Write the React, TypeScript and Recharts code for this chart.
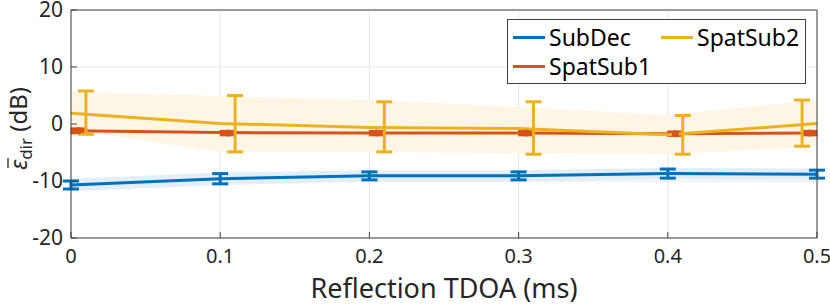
import React from "react";
import {
  ComposedChart,
  Line,
  Area,
  Scatter,
  ErrorBar,
  XAxis,
  YAxis,
  CartesianGrid,
  Legend,
} from "recharts";

const BLUE = "#0072BD";
const ORANGE = "#D95319";
const YELLOW = "#EDB120";
const AXIS = "#404040";
const TEXT = "#262626";
const FONT = "'Noto Sans', sans-serif";

const tdoa = [0, 0.1, 0.2, 0.3, 0.4, 0.5];
const xTicks = [0, 0.1, 0.2, 0.3, 0.4, 0.5];
const yTicks = [-20, -10, 0, 10, 20];

// SubDec
const subDecMean = [-10.7, -9.6, -9.1, -9.1, -8.7, -8.8];
const subDecErr = [0.7, 0.9, 0.7, 0.7, 0.8, 0.7];
const subDecSpread = [1.1, 1.1, 1.0, 1.0, 1.0, 1.0];

// SpatSub1
const spat1Mean = [-1.2, -1.5, -1.6, -1.6, -1.7, -1.6];
const spat1BarX = [0.005, 0.105, 0.205, 0.305, 0.405, 0.495];
const spat1BarMean = [-1.2, -1.6, -1.6, -1.6, -1.7, -1.6];
const spat1Err = [0.35, 0.3, 0.3, 0.3, 0.3, 0.3];

// SpatSub2
const spat2Mean = [1.9, 0.1, -0.6, -0.8, -1.9, 0.1];
const spat2Low = [-0.9, -4.9, -4.9, -5.1, -5.3, -4.0];
const spat2High = [5.7, 4.9, 4.2, 3.0, 1.6, 4.2];
const spat2BarX = [0.01, 0.11, 0.21, 0.31, 0.41, 0.49];
const spat2BarMean = [2.0, 0.05, -0.5, -0.7, -1.9, 0.15];
const spat2Err = [3.8, 4.95, 4.4, 4.6, 3.4, 4.05];

const subDecData = tdoa.map((x, i) => ({ x, y: subDecMean[i], err: subDecErr[i] }));
const subDecBand = tdoa.map((x, i) => ({
  x,
  range: [subDecMean[i] - subDecSpread[i], subDecMean[i] + subDecSpread[i]],
}));
const spat1Line = tdoa.map((x, i) => ({ x, y: spat1Mean[i] }));
const spat1Bars = spat1BarX.map((x, i) => ({ x, y: spat1BarMean[i], err: spat1Err[i] }));
const spat2Line = tdoa.map((x, i) => ({ x, y: spat2Mean[i] }));
const spat2Band = tdoa.map((x, i) => ({ x, range: [spat2Low[i], spat2High[i]] }));
const spat2Bars = spat2BarX.map((x, i) => ({ x, y: spat2BarMean[i], err: spat2Err[i] }));

const legendItems = [
  { name: "SubDec", color: BLUE, col: 0, row: 0 },
  { name: "SpatSub2", color: YELLOW, col: 1, row: 0 },
  { name: "SpatSub1", color: ORANGE, col: 0, row: 1 },
];

const TICK_LEN = 6;

const BottomTick = (props: any) => {
  const { x, y, payload } = props;
  const axisY = y - 12;
  return (
    <g>
      <line x1={x} x2={x} y1={axisY} y2={axisY - TICK_LEN} stroke={AXIS} />
      <text x={x} y={y} dy={13} textAnchor="middle" fill={TEXT} fontSize={20} fontFamily={FONT}>
        {payload.value}
      </text>
    </g>
  );
};

const LeftTick = (props: any) => {
  const { x, y, payload } = props;
  const axisX = x + 8;
  return (
    <g>
      <line x1={axisX} x2={axisX + TICK_LEN} y1={y} y2={y} stroke={AXIS} />
      <text x={x} y={y} dy={7} textAnchor="end" fill={TEXT} fontSize={21} fontFamily={FONT}>
        {payload.value}
      </text>
    </g>
  );
};

const TopTick = (props: any) => {
  const { x, y } = props;
  return <line x1={x} x2={x} y1={y} y2={y + TICK_LEN} stroke={AXIS} />;
};

const RightTick = (props: any) => {
  const { x, y } = props;
  return <line x1={x} x2={x - TICK_LEN} y1={y} y2={y} stroke={AXIS} />;
};

// rotated label: epsilon with a bar, "dir" subscript, then (dB)
const YLabel = (props: any) => {
  const { viewBox } = props;
  const cx = viewBox.x + 27;
  const cy = viewBox.y + viewBox.height / 2;
  const start = -46;
  return (
    <g transform={`translate(${cx},${cy}) rotate(-90)`}>
      <line x1={start + 2} x2={start + 12} y1={-19} y2={-19} stroke={TEXT} strokeWidth={1.3} />
      <text x={start} y={0} textAnchor="start" fill={TEXT} fontSize={24} fontFamily={FONT}>
        <tspan fontStyle="italic">{"\u03B5"}</tspan>
        <tspan fontSize={17} dy={5}>dir</tspan>
        <tspan dy={-5}>{" (dB)"}</tspan>
      </text>
    </g>
  );
};

const XLabel = (props: any) => {
  const { viewBox } = props;
  return (
    <text
      x={viewBox.x + viewBox.width / 2}
      y={viewBox.y + 60}
      textAnchor="middle"
      fill={TEXT}
      fontSize={27}
      fontFamily={FONT}
    >
      Reflection TDOA (ms)
    </text>
  );
};

const LegendBox = () => (
  <div
    style={{
      position: "relative",
      width: 299,
      height: 65,
      boxSizing: "border-box",
      border: `1px solid ${AXIS}`,
      background: "#fff",
      fontFamily: FONT,
      fontSize: 23,
      color: "#000",
    }}
  >
    {legendItems.map((it) => (
      <div
        key={it.name}
        style={{
          position: "absolute",
          left: 5 + it.col * 148,
          top: 2 + it.row * 29,
          height: 30,
          display: "flex",
          alignItems: "center",
          whiteSpace: "nowrap",
        }}
      >
        <span style={{ display: "inline-block", width: 32, height: 3, background: it.color, marginRight: 4 }} />
        <span>{it.name}</span>
      </div>
    ))}
  </div>
);

const noShape = () => <g />;

const Dot = (props: any) => {
  const { cx, cy } = props;
  return <circle cx={cx} cy={cy} r={3.5} fill={ORANGE} />;
};

export default function App() {
  return (
    <div style={{ position: "absolute", left: 0, top: 0, background: "#fff" }}>
      <ComposedChart width={830} height={305} margin={{ top: 0, right: 0, bottom: 0, left: 0 }}>
        <CartesianGrid stroke="#e6e6e6" />
        <XAxis
          dataKey="x"
          type="number"
          domain={[0, 0.5]}
          ticks={xTicks}
          allowDataOverflow
          height={67}
          tickSize={0}
          tickMargin={12}
          axisLine={{ stroke: AXIS }}
          tick={<BottomTick />}
          label={<XLabel />}
        />
        <XAxis
          xAxisId="top"
          orientation="top"
          type="number"
          domain={[0, 0.5]}
          ticks={xTicks}
          height={10}
          tickSize={0}
          tickMargin={0}
          axisLine={{ stroke: AXIS }}
          tick={<TopTick />}
        />
        <YAxis
          type="number"
          domain={[-20, 20]}
          ticks={yTicks}
          allowDataOverflow
          width={71}
          tickSize={0}
          tickMargin={8}
          axisLine={{ stroke: AXIS }}
          tick={<LeftTick />}
          label={<YLabel />}
        />
        <YAxis
          yAxisId="right"
          orientation="right"
          type="number"
          domain={[-20, 20]}
          ticks={yTicks}
          width={13}
          tickSize={0}
          tickMargin={0}
          axisLine={{ stroke: AXIS }}
          tick={<RightTick />}
        />

        <Area
          data={spat2Band}
          dataKey="range"
          type="linear"
          stroke="none"
          fill="#FDF6E5"
          fillOpacity={1}
          isAnimationActive={false}
        />
        <Area
          data={subDecBand}
          dataKey="range"
          type="linear"
          stroke="none"
          fill="#E3EEF8"
          fillOpacity={1}
          isAnimationActive={false}
        />

        <Line
          data={subDecData}
          dataKey="y"
          stroke={BLUE}
          strokeWidth={3}
          dot={false}
          isAnimationActive={false}
        >
          <ErrorBar dataKey="err" width={8} stroke={BLUE} strokeWidth={3} direction="y" isAnimationActive={false} />
        </Line>

        <Line
          data={spat1Line}
          dataKey="y"
          stroke={ORANGE}
          strokeWidth={3}
          dot={false}
          isAnimationActive={false}
        />
        <Scatter data={spat1Bars} dataKey="y" shape={<Dot />} isAnimationActive={false}>
          <ErrorBar dataKey="err" width={8} stroke={ORANGE} strokeWidth={3} direction="y" isAnimationActive={false} />
        </Scatter>

        <Line
          data={spat2Line}
          dataKey="y"
          stroke={YELLOW}
          strokeWidth={3}
          dot={false}
          isAnimationActive={false}
        />
        <Scatter data={spat2Bars} dataKey="y" shape={noShape} isAnimationActive={false}>
          <ErrorBar dataKey="err" width={8} stroke={YELLOW} strokeWidth={3} direction="y" isAnimationActive={false} />
        </Scatter>

        <Legend
          layout="vertical"
          align="center"
          verticalAlign="middle"
          wrapperStyle={{ left: 507, top: 19, width: 299, height: 65 }}
          content={<LegendBox />}
        />
      </ComposedChart>
    </div>
  );
}
